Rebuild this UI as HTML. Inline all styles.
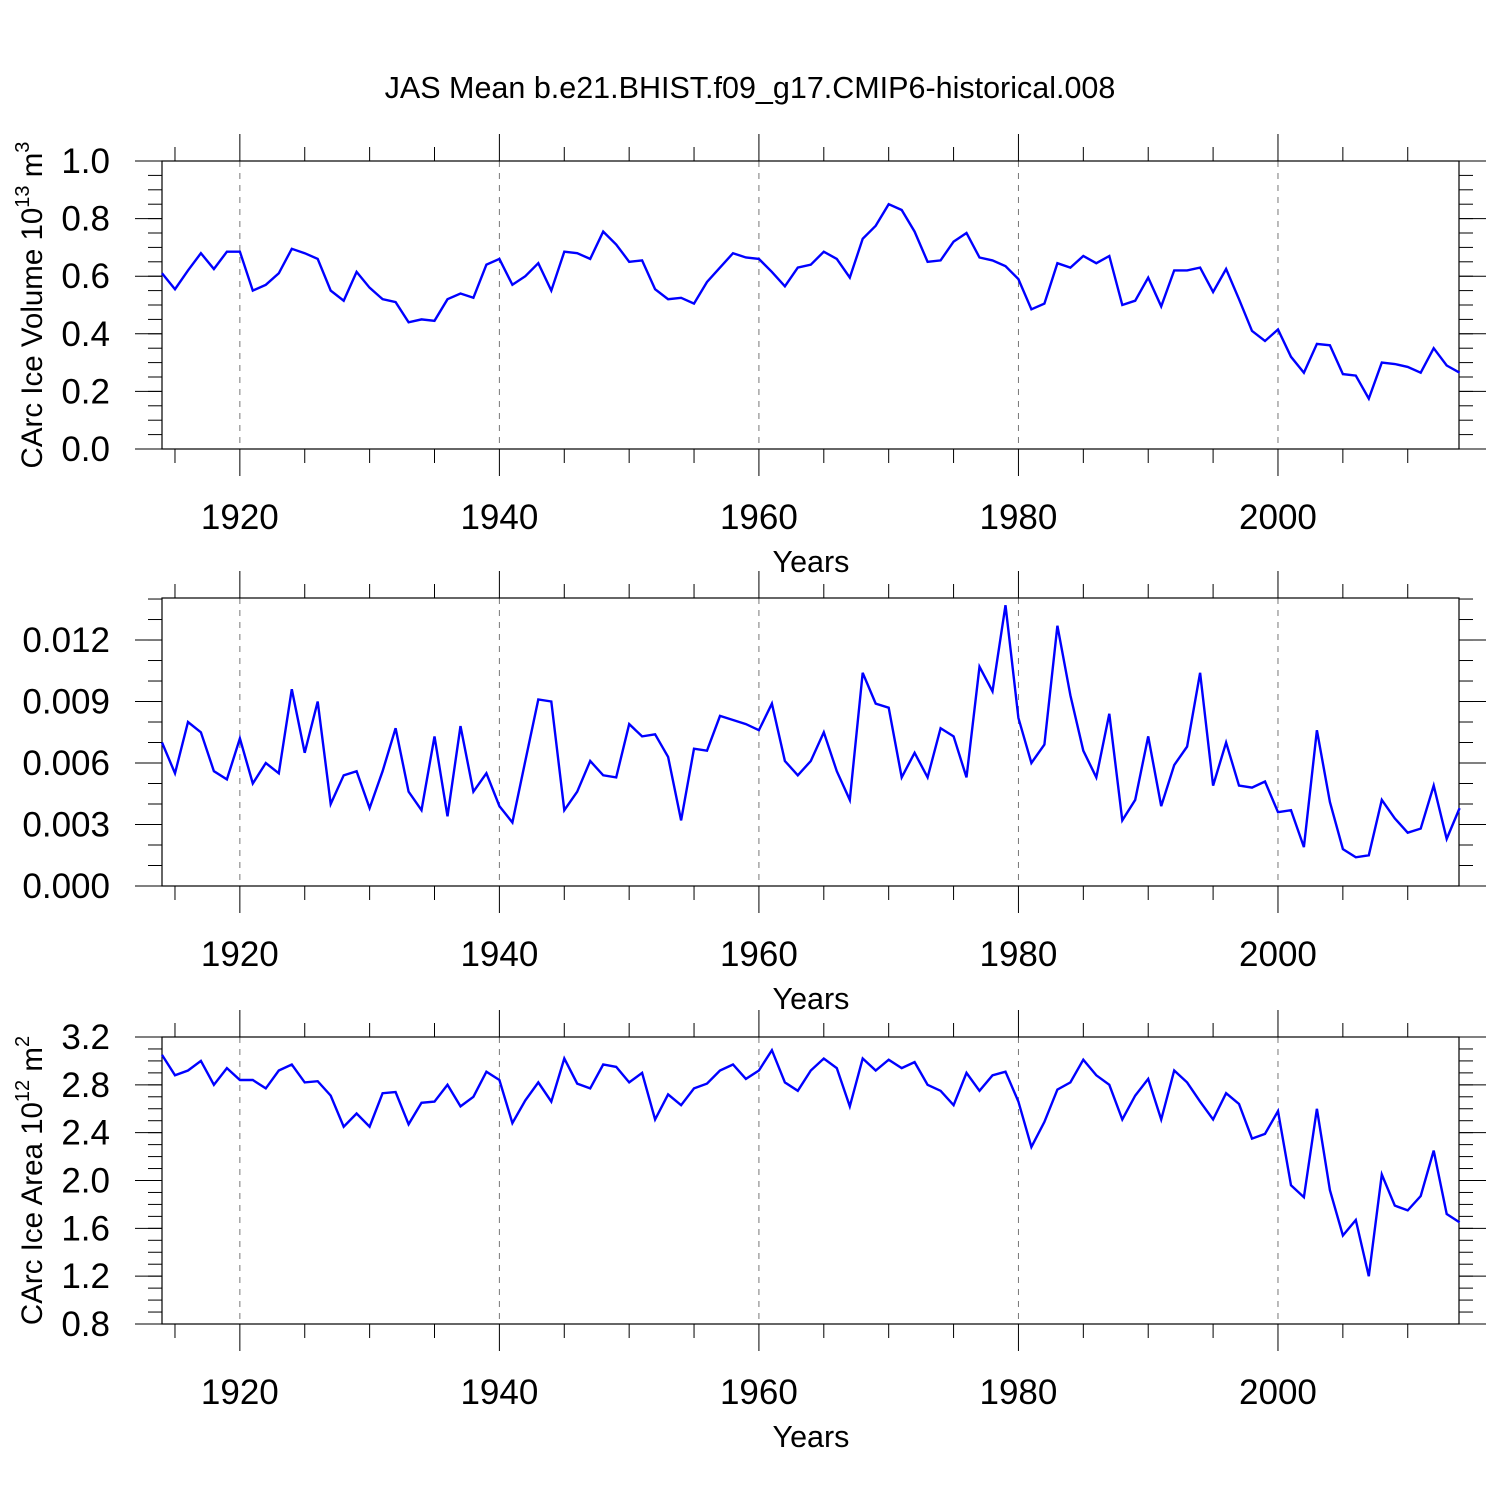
<!DOCTYPE html>
<html><head><meta charset="utf-8"><style>
html,body{margin:0;padding:0;background:#fff;}
svg{display:block;font-family:"Liberation Sans",Helvetica,Arial,sans-serif;}
</style></head><body>
<svg id="chart" width="1500" height="1500" viewBox="0 0 1500 1500" xmlns="http://www.w3.org/2000/svg">
<rect width="1500" height="1500" fill="#fff"/>
<text x="750" y="98" font-size="30.5" text-anchor="middle">JAS Mean b.e21.BHIST.f09_g17.CMIP6-historical.008</text>
</svg>
<script>
const years = [];
for (let y = 1914; y <= 2014; y++) years.push(y);
const volumeValues = [0.61,0.555,0.62,0.68,0.625,0.685,0.685,0.55,0.57,0.61,0.695,0.68,0.66,0.55,0.515,0.615,0.56,0.52,0.51,0.44,0.45,0.445,0.52,0.54,0.525,0.64,0.66,0.57,0.6,0.645,0.55,0.685,0.68,0.66,0.755,0.71,0.65,0.655,0.555,0.52,0.525,0.505,0.58,0.63,0.68,0.665,0.66,0.615,0.565,0.63,0.64,0.685,0.66,0.595,0.73,0.775,0.85,0.83,0.755,0.65,0.655,0.72,0.75,0.665,0.655,0.635,0.59,0.485,0.505,0.645,0.63,0.67,0.645,0.67,0.5,0.515,0.595,0.495,0.62,0.62,0.63,0.545,0.625,0.52,0.41,0.375,0.415,0.32,0.265,0.365,0.36,0.26,0.255,0.175,0.3,0.295,0.285,0.265,0.35,0.29,0.265];
const snowValues = [0.0070,0.0055,0.0080,0.0075,0.0056,0.0052,0.0072,0.0050,0.0060,0.0055,0.0096,0.0065,0.0090,0.0040,0.0054,0.0056,0.0038,0.0056,0.0077,0.0046,0.0037,0.0073,0.0034,0.0078,0.0046,0.0055,0.0039,0.0031,0.0061,0.0091,0.0090,0.0037,0.0046,0.0061,0.0054,0.0053,0.0079,0.0073,0.0074,0.0063,0.0032,0.0067,0.0066,0.0083,0.0081,0.0079,0.0076,0.0089,0.0061,0.0054,0.0061,0.0075,0.0056,0.0042,0.0104,0.0089,0.0087,0.0053,0.0065,0.0053,0.0077,0.0073,0.0053,0.0107,0.0095,0.0137,0.0082,0.0060,0.0069,0.0127,0.0093,0.0066,0.0053,0.0084,0.0032,0.0042,0.0073,0.0039,0.0059,0.0068,0.0104,0.0049,0.0070,0.0049,0.0048,0.0051,0.0036,0.0037,0.0019,0.0076,0.0041,0.0018,0.0014,0.0015,0.0042,0.0033,0.0026,0.0028,0.0049,0.0023,0.0038];
const areaValues = [3.05,2.88,2.92,3.0,2.8,2.94,2.84,2.84,2.77,2.92,2.97,2.82,2.83,2.71,2.45,2.56,2.45,2.73,2.74,2.47,2.65,2.66,2.8,2.62,2.7,2.91,2.84,2.48,2.67,2.82,2.66,3.02,2.81,2.77,2.97,2.95,2.82,2.9,2.51,2.72,2.63,2.77,2.81,2.92,2.97,2.85,2.92,3.09,2.82,2.75,2.92,3.02,2.94,2.62,3.02,2.92,3.01,2.94,2.99,2.8,2.75,2.63,2.9,2.75,2.88,2.91,2.66,2.28,2.49,2.76,2.82,3.01,2.88,2.8,2.51,2.71,2.85,2.51,2.92,2.82,2.66,2.51,2.73,2.64,2.35,2.39,2.58,1.96,1.86,2.6,1.92,1.54,1.67,1.2,2.05,1.79,1.75,1.87,2.25,1.72,1.65];
const xTickLabels = ["1920","1940","1960","1980","2000"];
const volTicks = ["0.0","0.2","0.4","0.6","0.8","1.0"];
const snowTicks = ["0.000","0.003","0.006","0.009","0.012"];
const areaTicks = ["0.8","1.2","1.6","2.0","2.4","2.8","3.2"];

const NS = "http://www.w3.org/2000/svg";
const svg = document.getElementById("chart");
const L = 162, R = 1459, XMIN = 1914, XMAX = 2013.95;
const xs = v => L + (v - XMIN) / (XMAX - XMIN) * (R - L);
function mk(tag, attrs, parent) {
  const e = document.createElementNS(NS, tag);
  for (const k in attrs) e.setAttribute(k, attrs[k]);
  (parent || svg).appendChild(e);
  return e;
}
const panels = [
  {name:"volume", top:161, bot:449, ymin:0, ymax:1.0, ticks:volTicks, minor:0.05, values:volumeValues, label:"CArc Ice Volume 10", sup:"13", unit:" m", usup:"3", lx:42},
  {name:"snow", top:598, bot:886, ymin:0, ymax:0.01405, ticks:snowTicks, minor:0.001, values:snowValues, label:"CArc Snow Volume 10", sup:"13", unit:" m", usup:"3", lx:-1},
  {name:"area", top:1037, bot:1324, ymin:0.8, ymax:3.2, ticks:areaTicks, minor:0.1, values:areaValues, label:"CArc Ice Area 10", sup:"12", unit:" m", usup:"2", lx:42}
];
panels.forEach(p => {
  const g = mk("g", {});
  
  
  const ys = v => p.bot - (v - p.ymin) / (p.ymax - p.ymin) * (p.bot - p.top);
  xTickLabels.forEach(t => {
    const x = xs(+t);
    const gl = mk("line", {x1:x, x2:x, y1:p.top, y2:p.bot, stroke:"#777", "stroke-width":1, "stroke-dasharray":"6,6"}, g);
    
    
  });
  for (let yr = 1915; yr <= 2010; yr += 5) {
    const x = xs(yr), major = yr % 20 === 0, len = major ? 27 : 14;
    mk("line", {x1:x, x2:x, y1:p.top, y2:p.top - len, stroke:"#000", "stroke-width":1}, g);
    mk("line", {x1:x, x2:x, y1:p.bot, y2:p.bot + len, stroke:"#000", "stroke-width":1}, g);
  }
  xTickLabels.forEach(t => {
    const tl = mk("text", {x:xs(+t), y:p.bot + 80, "font-size":35, "text-anchor":"middle"}, g);
    tl.textContent = t;
    
    
  });
  const xt = mk("text", {x:811, y:p.bot + 123, "font-size":30.5, "text-anchor":"middle"}, g);
  xt.textContent = "Years";
  
  
  const n = Math.round((p.ymax - p.ymin) / p.minor);
  for (let i = 0; i <= n; i++) {
    const v = p.ymin + i * p.minor, y = ys(v);
    if (y < p.top - 0.5) continue;
    mk("line", {x1:L, x2:L - 14, y1:y, y2:y, stroke:"#000", "stroke-width":1}, g);
    mk("line", {x1:R, x2:R + 14, y1:y, y2:y, stroke:"#000", "stroke-width":1}, g);
  }
  p.ticks.forEach(t => {
    const y = ys(+t);
    mk("line", {x1:L, x2:L - 27, y1:y, y2:y, stroke:"#000", "stroke-width":1}, g);
    mk("line", {x1:R, x2:R + 27, y1:y, y2:y, stroke:"#000", "stroke-width":1}, g);
    const tl = mk("text", {x:110, y:y + 12, "font-size":35, "text-anchor":"end"}, g);
    tl.textContent = t;
    
    
  });
  const fr = mk("rect", {x:L, y:p.top, width:R - L, height:p.bot - p.top, fill:"none", stroke:"#000", "stroke-width":1.2}, g);
  
  
  const cy = (p.top + p.bot) / 2;
  const yt = mk("text", {x:p.lx, y:cy, "font-size":29.5, "text-anchor":"middle", transform:`rotate(-90 ${p.lx} ${cy})`}, g);
  
  
  yt.appendChild(document.createTextNode(p.label));
  const s1 = mk("tspan", {"font-size":20, dy:-13}, yt); s1.textContent = p.sup;
  const s2 = mk("tspan", {dy:13}, yt); s2.textContent = p.unit;
  const s3 = mk("tspan", {"font-size":20, dy:-13}, yt); s3.textContent = p.usup;
  const d = p.values.map((v, i) => (i ? "L" : "M") + xs(years[i]).toFixed(1) + "," + ys(v).toFixed(1)).join(" ");
  const line = mk("path", {d:d, fill:"none", stroke:"#0000ff", "stroke-width":2.4, "stroke-linejoin":"miter"}, g);
  
  
});
</script>
</body></html>
